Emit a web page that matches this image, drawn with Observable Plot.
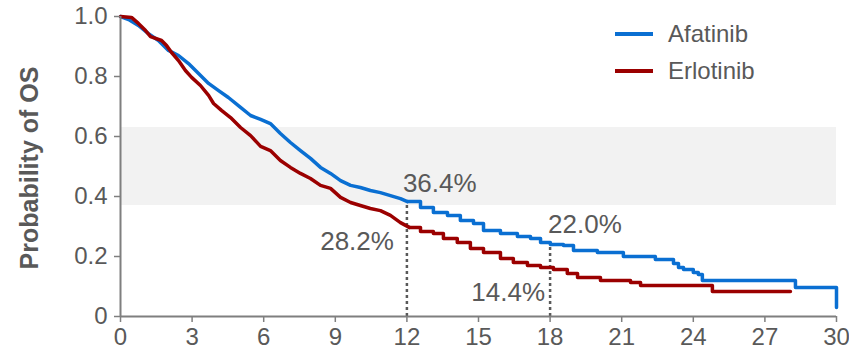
<!DOCTYPE html>
<html><head><meta charset="utf-8">
<script src="https://cdn.jsdelivr.net/npm/d3@7"></script>
<script src="https://cdn.jsdelivr.net/npm/@observablehq/plot@0.6"></script>
<style>
html,body{margin:0;padding:0;background:#fff;}
#wrap{position:relative;width:849px;height:351px;font-family:"Liberation Sans",Arial,sans-serif;color:#595959;}
#legend{position:absolute;left:615px;top:0;}
.item{position:absolute;left:0;display:flex;align-items:center;white-space:nowrap;font-size:24px;color:#595959;}
.swatch{width:38px;height:4px;margin-right:15px;}
#ylab{position:absolute;left:29px;top:168px;transform:translate(-50%,-50%) rotate(-90deg);font-weight:bold;font-size:25px;white-space:nowrap;color:#595959;}
</style></head><body>
<div id="wrap"><div id="ylab">Probability of OS</div><div id="legend"></div></div>
<script>
// ---- data ----
const seriesNames = ["Afatinib", "Erlotinib"];
const seriesColors = ["#0A6FD2", "#9B0000"];

const afatinibMonths = [0, 0.34, 0.75, 1.17, 1.59, 2.01, 2.43, 2.85, 3.27, 3.69, 4.11, 4.52, 5.03, 5.45, 5.87, 6.28, 6.70, 7.12, 7.54, 7.96, 8.38, 8.80, 9.22, 9.64, 10.05, 10.47, 10.89, 11.31, 11.73, 12.02, 12.57, 13.11, 13.70, 14.24, 14.79, 15.21, 15.92, 16.63, 17.18, 17.60, 18.01, 18.56, 18.98, 19.98, 21.07, 22.41, 23.17, 23.38, 23.59, 24.00, 24.21, 24.38, 28.28, 30];
const afatinibSurv = [1.0, 0.99, 0.97, 0.943, 0.92, 0.887, 0.87, 0.843, 0.81, 0.777, 0.753, 0.73, 0.697, 0.67, 0.657, 0.643, 0.61, 0.58, 0.553, 0.527, 0.497, 0.477, 0.453, 0.437, 0.43, 0.42, 0.413, 0.403, 0.393, 0.383, 0.363, 0.347, 0.337, 0.32, 0.31, 0.287, 0.277, 0.267, 0.26, 0.247, 0.24, 0.237, 0.22, 0.213, 0.20, 0.19, 0.177, 0.163, 0.157, 0.147, 0.14, 0.12, 0.097, 0.03];

const erlotinibMonths = [0, 0.46, 0.75, 1.05, 1.26, 1.72, 1.93, 2.14, 2.43, 2.72, 2.98, 3.35, 3.69, 3.90, 4.23, 4.61, 5.03, 5.45, 5.87, 6.28, 6.70, 7.12, 7.54, 7.96, 8.38, 8.80, 9.22, 9.64, 10.05, 10.47, 10.89, 11.31, 11.73, 12.10, 12.57, 13.11, 13.53, 14.11, 14.66, 15.21, 15.92, 16.46, 17.05, 17.60, 18.14, 18.72, 19.15, 20.11, 21.37, 21.79, 24.80, 28.07];
const erlotinibSurv = [1.0, 0.997, 0.977, 0.953, 0.933, 0.92, 0.903, 0.88, 0.853, 0.82, 0.797, 0.77, 0.737, 0.71, 0.687, 0.663, 0.63, 0.603, 0.567, 0.553, 0.52, 0.497, 0.477, 0.46, 0.437, 0.427, 0.397, 0.38, 0.37, 0.36, 0.353, 0.337, 0.313, 0.297, 0.283, 0.277, 0.26, 0.247, 0.227, 0.213, 0.193, 0.18, 0.17, 0.163, 0.157, 0.143, 0.13, 0.12, 0.113, 0.103, 0.083, 0.083];

const xTicks = [0, 3, 6, 9, 12, 15, 18, 21, 24, 27, 30];
const yTicks = [0, 0.2, 0.4, 0.6, 0.8, 1.0];
const bandRange = [0.37, 0.63];

const markerMonths = [12, 18];
const markerTops = [0.383, 0.243];

const annoTexts = ["36.4%", "28.2%", "22.0%", "14.4%"];
const annoMonths = [12, 12, 18, 18];
const annoLevels = [0.443, 0.25, 0.307, 0.08];

// ---- build tables ----
const denseUntil = 12.1; // dense early part drawn as a fine line, sparse tail as steps
function rows(name, months, surv) {
  return months.map((m, i) => ({series: name, month: m, surv: surv[i]}));
}
const all = [
  rows(seriesNames[0], afatinibMonths, afatinibSurv),
  rows(seriesNames[1], erlotinibMonths, erlotinibSurv)
];
const dense = all.flatMap(r => r.filter(d => d.month <= denseUntil));
const tail = all.flatMap(r => {
  const lastDense = r.filter(d => d.month <= denseUntil).pop();
  return [lastDense, ...r.filter(d => d.month > denseUntil)];
});
const markers = markerMonths.map((m, i) => ({month: m, top: markerTops[i]}));
const annos = annoTexts.map((t, i) => ({text: t, month: annoMonths[i], level: annoLevels[i]}));
const gray = "#595959";
const axisGray = "#7f7f7f";

const annoMark = (i, anchor, dx) =>
  Plot.text([annos[i]], {x: "month", y: "level", text: "text", textAnchor: anchor, dx, fontSize: 26, fill: gray});

const chart = Plot.plot({
  width: 849,
  height: 351,
  marginLeft: 120,
  marginRight: 13,
  marginTop: 16,
  marginBottom: 35,
  style: {fontFamily: "'Liberation Sans', Arial, sans-serif", color: gray, background: "white"},
  x: {domain: [0, 30]},
  y: {domain: [0, 1]},
  color: {domain: seriesNames, range: seriesColors},
  marks: [
    Plot.rect([bandRange], {x1: 0, x2: 30, y1: d => d[0], y2: d => d[1], fill: "#f2f2f2"}),
    Plot.ruleX(markers, {x: "month", y1: 0, y2: "top", stroke: gray, strokeWidth: 2.5, strokeDasharray: "3,3"}),
    Plot.line(dense, {x: "month", y: "surv", z: "series", stroke: "series", curve: "linear", strokeWidth: 3.5}),
    Plot.line(tail, {x: "month", y: "surv", z: "series", stroke: "series", curve: "step-after", strokeWidth: 3.5}),
    annoMark(0, "start", -4),
    annoMark(1, "end", -13),
    annoMark(2, "start", -2),
    annoMark(3, "end", -5),
    Plot.ruleY([0], {stroke: axisGray, strokeWidth: 2}),
    Plot.ruleX([0], {stroke: axisGray, strokeWidth: 2}),
    Plot.axisX({ticks: xTicks, tickSize: 6, tickPadding: 5, stroke: axisGray, strokeWidth: 1.5, fill: gray, fontSize: 24, label: null, tickFormat: d => String(d)}),
    Plot.axisY({ticks: yTicks, tickSize: 6, tickPadding: 7, stroke: axisGray, strokeWidth: 1.5, fill: gray, fontSize: 24, label: null, tickFormat: d => d === 0 ? "0" : d.toFixed(1)})
  ]
});
document.getElementById("wrap").prepend(chart);

// legend (HTML)
const legend = document.getElementById("legend");
seriesNames.forEach((name, i) => {
  const item = document.createElement("div");
  item.className = "item";
  item.style.top = (20 + i * 37) + "px";
  const sw = document.createElement("span");
  sw.className = "swatch";
  sw.style.background = seriesColors[i];
  const label = document.createElement("span");
  label.textContent = name;
  item.append(sw, label);
  legend.append(item);
});
</script>
</body></html>
